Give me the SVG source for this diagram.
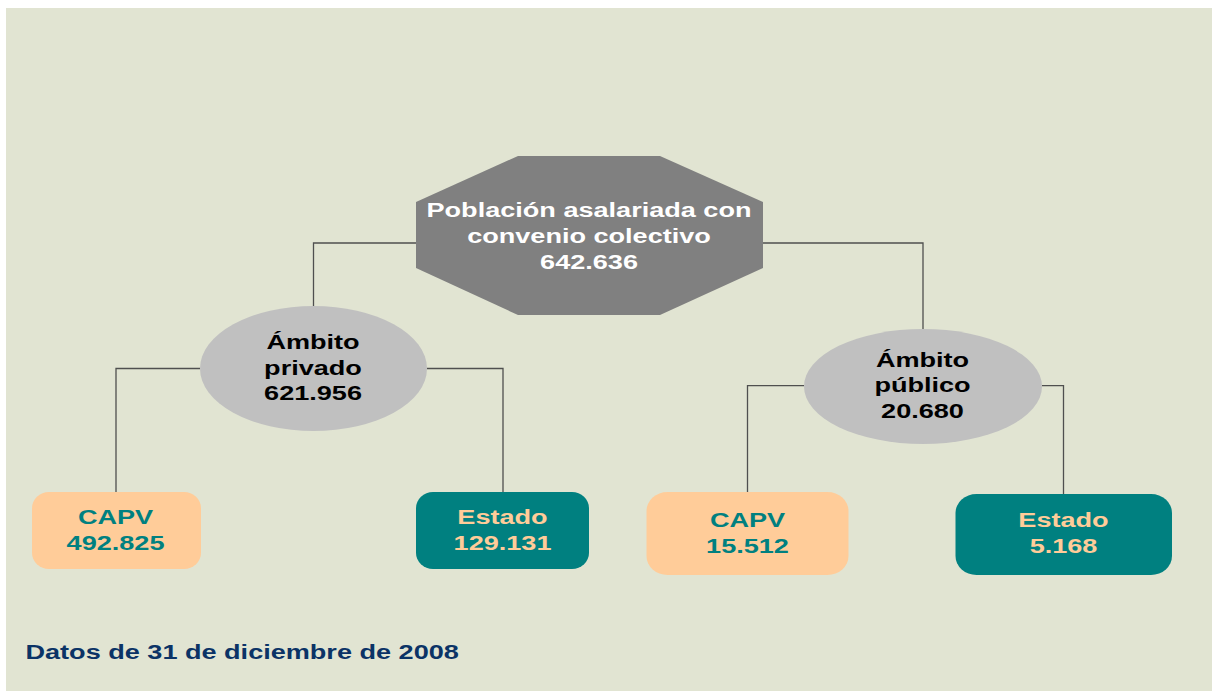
<svg xmlns="http://www.w3.org/2000/svg" width="1212" height="691" viewBox="0 0 1212 691">
<style>
.t{font-family:"Liberation Sans",Arial,sans-serif;font-weight:bold;font-size:21px;text-anchor:middle}
.w{fill:#ffffff}
.k{fill:#000000}
.tl{fill:#008080}
.pe{fill:#FFCC99}
.conn{fill:none;stroke:#4f4f4f;stroke-width:1.3}
.ell{fill:#C0C0C0}
</style>
<rect x="0" y="0" width="1212" height="691" fill="#ffffff"/>
<rect x="6" y="8" width="1206" height="683" fill="#E1E4D2"/>
<g id="connectors">
<path class="conn" d="M416,243 H313.5 V306"/>
<path class="conn" d="M763,243 H923 V329"/>
<path class="conn" d="M200,368.5 H116 V492"/>
<path class="conn" d="M427,368.5 H503 V492"/>
<path class="conn" d="M804,385.7 H747.5 V492"/>
<path class="conn" d="M1042,385.7 H1063.5 V494"/>
</g>
<g id="root">
<polygon points="518,156 660,156 763,202 763,268 660,315 518,315 416,268 416,202" fill="#808080"/>
<text class="t w" transform="translate(589,216.5) scale(1.29,1)">Población asalariada con</text>
<text class="t w" transform="translate(589,242.5) scale(1.29,1)">convenio colectivo</text>
<text class="t w" transform="translate(589,268.5) scale(1.29,1)">642.636</text>
</g>
<g id="privado">
<ellipse class="ell" cx="313.5" cy="368.5" rx="113.5" ry="62.5"/>
<text class="t k" transform="translate(313,349.3) scale(1.29,1)">Ámbito</text>
<text class="t k" transform="translate(313,374.5) scale(1.29,1)">privado</text>
<text class="t k" transform="translate(313,400) scale(1.29,1)">621.956</text>
</g>
<g id="publico">
<ellipse class="ell" cx="923" cy="386.5" rx="119" ry="57.5"/>
<text class="t k" transform="translate(922.5,366.8) scale(1.29,1)">Ámbito</text>
<text class="t k" transform="translate(922.5,392.4) scale(1.29,1)">público</text>
<text class="t k" transform="translate(922.5,418.3) scale(1.29,1)">20.680</text>
</g>
<g id="capv-privado">
<rect x="32" y="492" width="169" height="77" rx="17" ry="16" class="pe"/>
<text class="t tl" transform="translate(115.5,524) scale(1.29,1)">CAPV</text>
<text class="t tl" transform="translate(115.5,550) scale(1.29,1)">492.825</text>
</g>
<g id="estado-privado">
<rect x="416" y="492" width="173" height="77" rx="17" ry="16" class="tl"/>
<text class="t pe" transform="translate(502.5,524) scale(1.29,1)">Estado</text>
<text class="t pe" transform="translate(502.5,550) scale(1.29,1)">129.131</text>
</g>
<g id="capv-publico">
<rect x="646.5" y="492" width="202" height="83" rx="21" ry="19" class="pe"/>
<text class="t tl" transform="translate(747.5,526.7) scale(1.29,1)">CAPV</text>
<text class="t tl" transform="translate(747.5,552.7) scale(1.29,1)">15.512</text>
</g>
<g id="estado-publico">
<rect x="955.5" y="494" width="216.5" height="81" rx="21" ry="19" class="tl"/>
<text class="t pe" transform="translate(1063.5,527.3) scale(1.29,1)">Estado</text>
<text class="t pe" transform="translate(1063.5,553.3) scale(1.29,1)">5.168</text>
</g>
<g id="nota">
<text class="t" style="text-anchor:start;fill:#0B3366" transform="translate(25.5,658.7) scale(1.29,1)">Datos de 31 de diciembre de 2008</text>
</g>
</svg>
